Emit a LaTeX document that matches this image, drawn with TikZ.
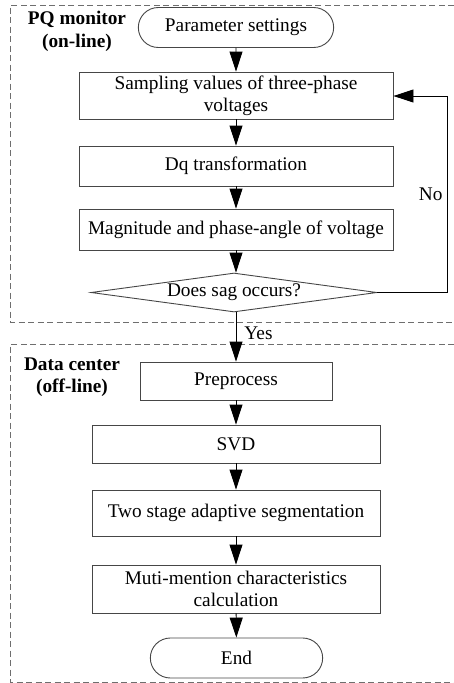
\documentclass[tikz,border=0pt]{standalone}
\usepackage{fontspec}
\setmainfont{Liberation Serif}
\usetikzlibrary{shapes.geometric,shapes.misc,arrows.meta}
\definecolor{boxgray}{RGB}{70,70,70}
\definecolor{dashgray}{RGB}{110,110,110}
\tikzset{
  proc/.style={draw=boxgray, line width=0.9pt, rectangle, minimum height=40pt, align=center, inner sep=2pt},
  term/.style={draw=boxgray, line width=0.9pt, rounded rectangle, minimum height=40pt},
  decis/.style={draw=boxgray, line width=0.9pt, diamond, aspect=7.3, inner sep=1pt},
  conn/.style={line width=0.9pt, -{Triangle[length=20pt,width=13pt]}},
  region/.style={draw=dashgray, line width=1pt, dash pattern=on 6pt off 3.5pt},
  lbl/.style={font=\fontsize{19.3}{22.5}\selectfont\bfseries, align=center}
}
\begin{document}
\begin{tikzpicture}[x=1pt,y=-1pt,font=\fontsize{19.3}{22}\selectfont]
\useasboundingbox (0,0) rectangle (454,683);
% regions
\draw[region] (454,5) -- (10,5) -- (10,322) -- (454,322);
\draw[region] (454,344) -- (10,344) -- (10,682) -- (454,682);
\node[lbl, anchor=north] (l1) at (77,8) {PQ monitor\\(on-line)};
\node[lbl, anchor=north] (l2) at (72,354) {Data center\\(off-line)};
% nodes
\node[term, minimum width=202pt] (ps) at (236,27.5) {Parameter settings};
\node[proc, minimum width=314pt, minimum height=47pt] (samp) at (236,95.5) {Sampling values of three-phase\\voltages};
\node[proc, minimum width=314pt] (dq) at (236,166) {Dq transformation};
\node[proc, minimum width=314pt, minimum height=41pt] (mag) at (236,229.5) {Magnitude and phase-angle of voltage};
\node[decis, minimum width=286pt, minimum height=39pt] (sag) at (234,292.5) {Does sag occurs?};
\node[proc, minimum width=192pt, minimum height=38pt] (pre) at (236,381) {Preprocess};
\node[proc, minimum width=288pt, minimum height=38pt] (svd) at (236,444) {SVD};
\node[proc, minimum width=288pt, minimum height=46pt] (two) at (236,513) {Two stage adaptive segmentation};
\node[proc, minimum width=288pt, minimum height=48pt] (muti) at (236,589) {Muti-mention characteristics\\calculation};
\node[term, minimum width=179pt] (end) at (236.5,658) {End};
\coordinate (c1) at (447,292.5);
\coordinate (c2) at (447,96);
% connectors
\draw[conn] (ps) -- (samp);
\draw[conn] (samp) -- (dq);
\draw[conn] (dq) -- (mag);
\draw[conn] (mag) -- (sag.north -| mag.south);
\draw[conn] (sag.south -| pre.north) -- node[anchor=west, pos=0.42, inner sep=0pt, xshift=8pt] (yes) {Yes} (pre);
\draw[conn] (pre) -- (svd);
\draw[conn] (svd) -- (two);
\draw[conn] (two) -- (muti);
\draw[conn] (muti) -- (end);
\draw[conn] (sag.east) -- (c1) -- node[left, pos=0.5, inner sep=4pt] (no) {No} (c2) -- (samp.east |- c2);
\end{tikzpicture}
\end{document}
